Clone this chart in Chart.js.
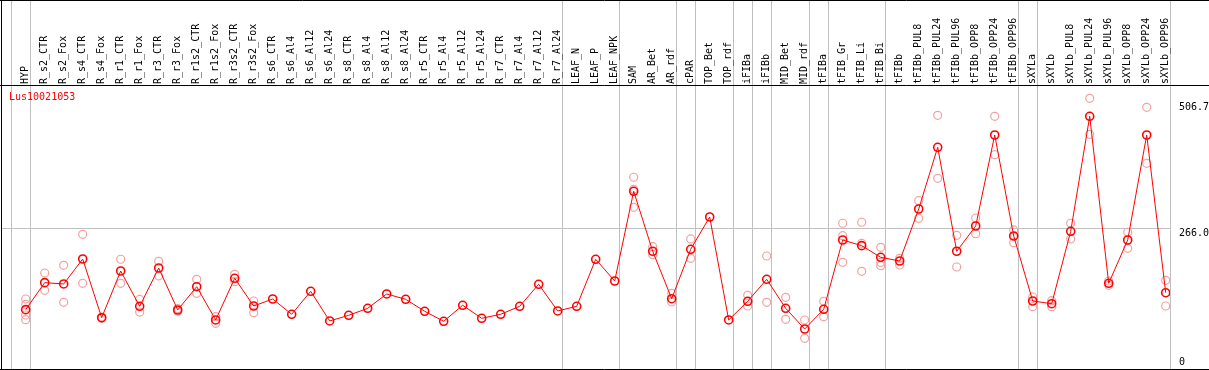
<!DOCTYPE html>
<html>
<head>
<meta charset="utf-8">
<script src="https://cdn.jsdelivr.net/npm/chart.js@4.4.1/dist/chart.umd.min.js"></script>
<style>
  html, body { margin: 0; padding: 0; background: #fff; }
  #quadro { position: relative; width: 1209px; height: 370px; }
</style>
</head>
<body>
<div id="quadro"><canvas id="grafico_expressao"></canvas></div>
<script>
// --- Dados ---
const GENE = 'Lus10021053';
const N = null; // sem réplica visível

const categorias = [
  'HYP', 'R_s2_CTR', 'R_s2_Fox', 'R_s4_CTR', 'R_s4_Fox', 'R_r1_CTR', 'R_r1_Fox', 'R_r3_CTR', 'R_r3_Fox',
  'R_r1s2_CTR', 'R_r1s2_Fox', 'R_r3s2_CTR', 'R_r3s2_Fox', 'R_s6_CTR', 'R_s6_Al4', 'R_s6_Al12', 'R_s6_Al24',
  'R_s8_CTR', 'R_s8_Al4', 'R_s8_Al12', 'R_s8_Al24', 'R_r5_CTR', 'R_r5_Al4', 'R_r5_Al12', 'R_r5_Al24',
  'R_r7_CTR', 'R_r7_Al4', 'R_r7_Al12', 'R_r7_Al24', 'LEAF_N', 'LEAF_P', 'LEAF_NPK', 'SAM', 'AR_Bet', 'AR_rdf',
  'cPAR', 'TOP_Bet', 'TOP_rdf', 'iFIBa', 'iFIBb', 'MID_Bet', 'MID_rdf', 'tFIBa', 'tFIB_Gr', 'tFIB_Li', 'tFIB_Bi',
  'tFIBb', 'tFIBb_PUL8', 'tFIBb_PUL24', 'tFIBb_PUL96', 'tFIBb_OPP8', 'tFIBb_OPP24', 'tFIBb_OPP96', 'sXYLa',
  'sXYLb', 'sXYLb_PUL8', 'sXYLb_PUL24', 'sXYLb_PUL96', 'sXYLb_OPP8', 'sXYLb_OPP24', 'sXYLb_OPP96'
];

// média (linha vermelha)
const medias = [
  110.5, 162.1, 159.6, 207.3, 95.2, 184.4, 116.9, 190.1, 109.9, 154.4, 90.8, 170.4, 117.5, 130.9, 101.7,
  145.6, 88.9, 99.7, 113.1, 140.5, 130.3, 107.4, 88.3, 118.9, 94.0, 101.7, 116.9, 159.0, 108.0, 116.9, 206.8,
  165.3, 336.7, 222.1, 131.5, 225.9, 287.6, 90.8, 126.5, 168.5, 113.1, 73.6, 111.2, 243.6, 232.8, 210.6, 203.5,
  302.9, 420.8, 222.1, 270.4, 444.3, 251.3, 127.1, 121.9, 260.3, 480.0, 160.9, 243.6, 444.3, 142.9
];

// réplicas (círculos rosa)
const rep1 = [
  130.9, 180.6, 195.3, 254.5, 96.5, 206.8, 130.0, 202.9, 112.5, 168.5, 97.1, 178.1, 127.1, N, N,
  N, N, N, N, N, N, N, N, N, N, N, N, N, N, N, N,
  N, 363.5, 230.8, 141.8, 245.6, N, N, 138.0, 213.1, 134.1, 90.8, 126.5, 275.6, 277.5, 229.7, 208.7,
  318.8, 481.9, 252.6, 285.7, 480.0, 262.8, 134.7, 127.7, 275.6, 514.4, 165.3, 258.4, 497.2, 166.6
];
const rep2 = [
  120.8, 147.5, 124.6, 160.9, 94.0, 160.9, 106.0, 174.9, 107.5, 141.8, 84.5, 164.0, 104.7, N, N,
  N, N, N, N, N, N, N, N, N, N, N, N, N, N, N, N,
  N, 340.5, 215.6, 125.2, 208.7, N, N, 117.5, 124.6, 92.1, 55.8, 97.1, 251.9, 237.3, 201.0, 195.9,
  285.1, 361.5, 192.0, 255.7, 406.7, 238.5, 116.2, 116.2, 245.6, 445.6, 157.1, 227.8, 390.2, 117.5
];
const rep3 = [
  100.3, N, N, N, N, N, N, N, N, N, N, N, N, N, N,
  N, N, N, N, N, N, N, N, N, N, N, N, N, N, N, N,
  N, 306.1, N, N, N, N, N, N, N, N, N, N, 201.0, 183.8, 194.5, N,
  N, N, N, N, N, N, N, N, N, N, N, N, N, N
];
const rep4 = [
  91.3, N, N, N, N, N, N, N, N, N, N, N, N, N, N,
  N, N, N, N, N, N, N, N, N, N, N, N, N, N, N, N,
  N, N, N, N, N, N, N, N, N, N, N, N, N, N, N, N,
  N, N, N, N, N, N, N, N, N, N, N, N, N, N
];

// linhas cinzentas verticais: depois destas categorias
const separadores = [-1, 0, 28, 31, 34, 35, 37, 38, 39, 41, 42, 45, 52, 53, 60];
const ticksY = [0, 266.0, 506.7];

// --- Configuração ---
const X_MIN = -1.247, X_MAX = 60.226;
const Y_MIN = -2.87, Y_MAX = 537.9;
const FONTE = { family: '"DejaVu Sans Mono", monospace', size: 10 };
const CINZA = '#c0c0c0';
const ROSA = '#f2a2a2';

const pontos = arr => arr.map((v, i) => (v === null ? null : { x: i, y: v })).filter(Boolean);

const molduraPlugin = {
  id: 'moldura',
  afterDraw(chart) {
    const { ctx, width, height, chartArea } = chart;
    ctx.save();
    ctx.strokeStyle = '#000';
    ctx.lineWidth = 1;
    ctx.beginPath();
    ctx.moveTo(0, 0.5); ctx.lineTo(width, 0.5);
    ctx.moveTo(0, chartArea.top - 0.5); ctx.lineTo(width, chartArea.top - 0.5);
    ctx.moveTo(0, height - 0.5); ctx.lineTo(width, height - 0.5);
    ctx.moveTo(1.5, 0); ctx.lineTo(1.5, height);
    ctx.stroke();
    // nome do gene no canto
    ctx.fillStyle = '#ff0000';
    ctx.font = '10px "DejaVu Sans Mono", monospace';
    ctx.textBaseline = 'top';
    ctx.fillText(chart.data.datasets[0].label, chartArea.left + 7, chartArea.top + 6);
    ctx.restore();
  }
};

const semPadding = s => { s.paddingLeft = 0; s.paddingRight = 0; s.paddingTop = 0; s.paddingBottom = 0; };

function repDataset(arr) {
  return {
    data: pontos(arr),
    showLine: false,
    pointRadius: 4,
    pointBorderWidth: 1.2,
    pointBorderColor: ROSA,
    pointBackgroundColor: 'rgba(0,0,0,0)',
    xAxisID: 'x', yAxisID: 'y'
  };
}

new Chart(document.getElementById('grafico_expressao'), {
  type: 'scatter',
  data: {
    datasets: [
      {
        label: GENE,
        data: pontos(medias),
        showLine: true,
        borderColor: '#ff0000',
        borderWidth: 1,
        pointRadius: 4,
        pointBorderWidth: 1.6,
        pointBorderColor: '#ff0000',
        pointBackgroundColor: 'rgba(0,0,0,0)',
        xAxisID: 'x', yAxisID: 'y'
      },
      repDataset(rep1),
      repDataset(rep2),
      repDataset(rep3),
      repDataset(rep4)
    ]
  },
  options: {
    responsive: true,
    maintainAspectRatio: false,
    animation: false,
    events: [],
    layout: { autoPadding: false, padding: { left: 2, top: 1, right: 0, bottom: 1 } },
    plugins: { legend: { display: false }, tooltip: { enabled: false } },
    scales: {
      x: {
        type: 'linear', position: 'top', min: X_MIN, max: X_MAX,
        afterBuildTicks: s => { s.ticks = categorias.map((c, i) => ({ value: i })); },
        afterFit: s => { s.height = 85; semPadding(s); },
        ticks: {
          autoSkip: false, minRotation: 90, maxRotation: 90, padding: 2, labelOffset: 12,
          color: '#000', font: FONTE,
          callback: v => categorias[v]
        },
        grid: { display: false, drawTicks: false },
        border: { display: false }
      },
      xSep: {
        type: 'linear', position: 'top', weight: -1, min: X_MIN, max: X_MAX,
        afterBuildTicks: s => { s.ticks = separadores.map(i => ({ value: i + 0.25 })); },
        afterFit: s => { s.height = 0; semPadding(s); },
        ticks: { display: false },
        grid: { color: CINZA, lineWidth: 1, drawTicks: true, tickLength: 86 },
        border: { display: false }
      },
      y: {
        type: 'linear', position: 'right', min: Y_MIN, max: Y_MAX,
        afterBuildTicks: s => { s.ticks = ticksY.map(v => ({ value: v })); },
        afterFit: s => { s.width = 39; semPadding(s); },
        ticks: {
          autoSkip: false, padding: 9, color: '#000',
          font: { family: FONTE.family, size: 10, lineHeight: 0.95 },
          // o "0" fica acima da linha, os outros abaixo
          callback: v => (v === 0 ? ['0', ''] : ['', v.toFixed(1)])
        },
        grid: {
          color: c => (c.tick && c.tick.value === 266 ? CINZA : 'rgba(0,0,0,0)'),
          drawTicks: false
        },
        border: { display: false }
      }
    }
  },
  plugins: [molduraPlugin]
});
</script>
</body>
</html>
